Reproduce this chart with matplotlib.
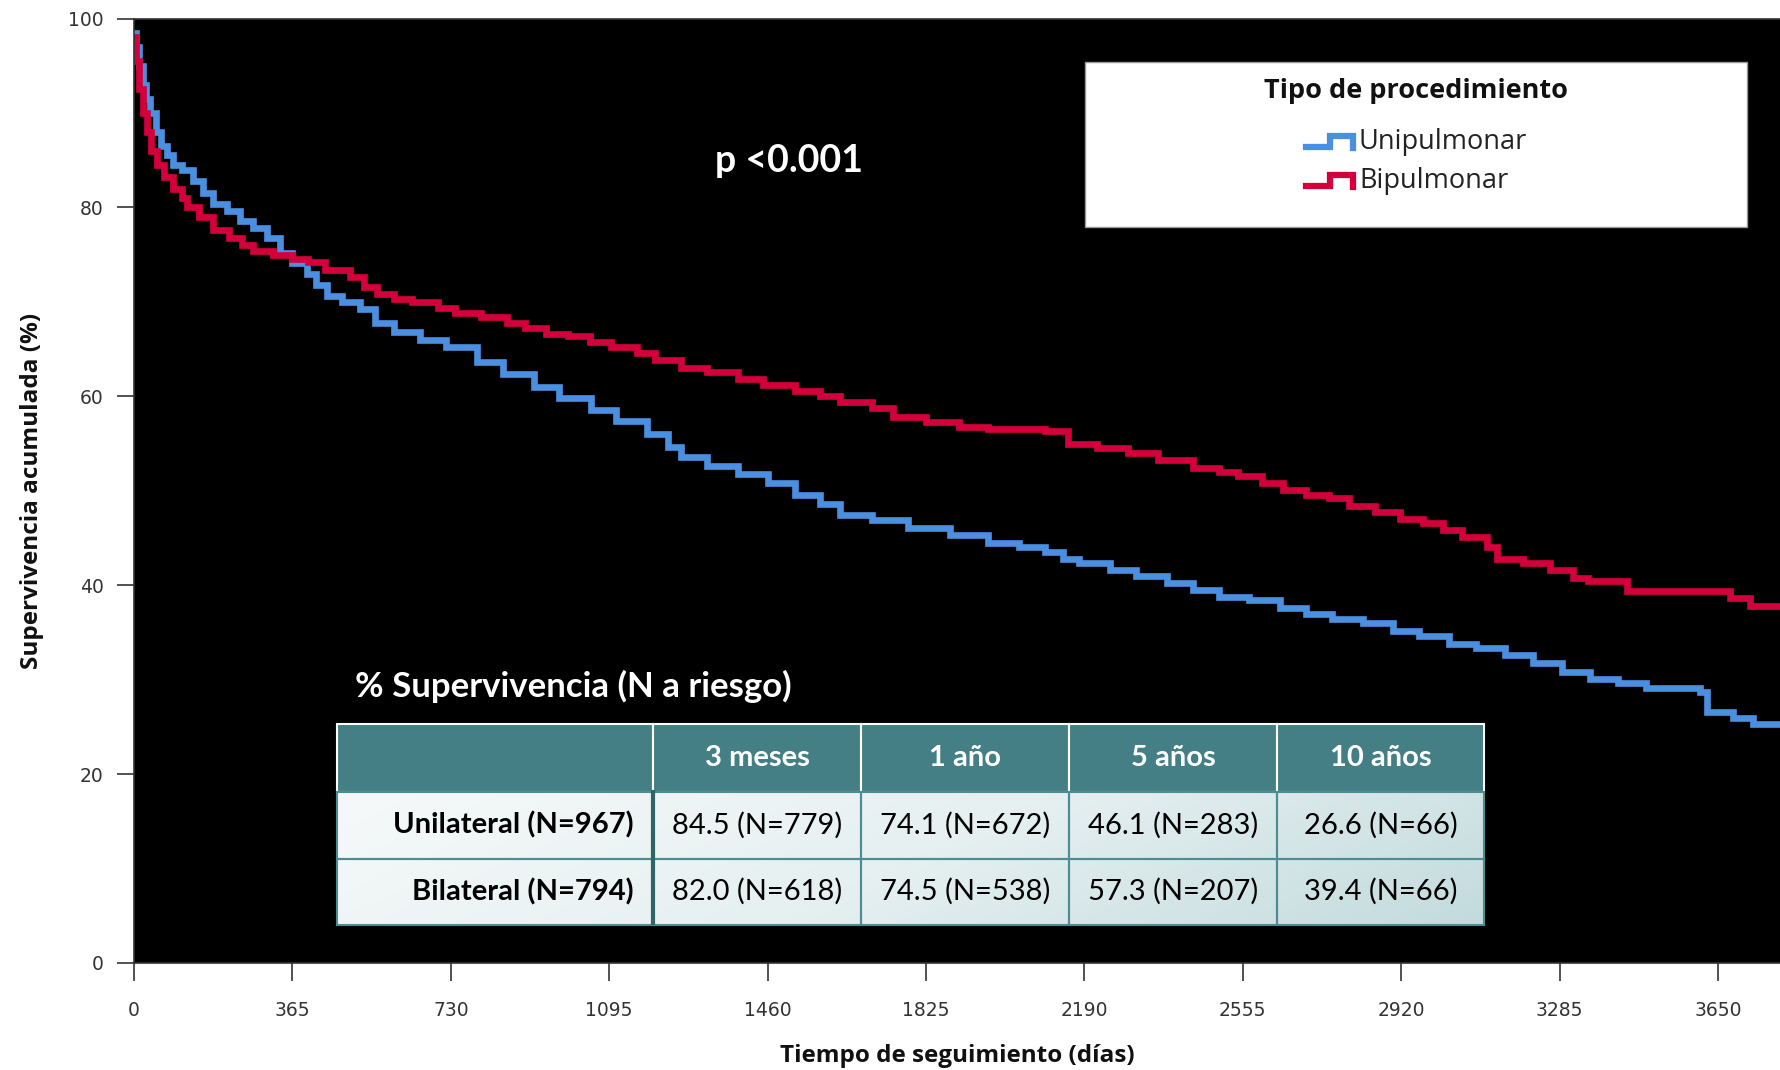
import matplotlib
matplotlib.use('Agg')
import matplotlib.pyplot as plt
from matplotlib.patches import Rectangle
from matplotlib.lines import Line2D
from matplotlib.table import Table
from matplotlib.colors import LinearSegmentedColormap
import numpy as np

# ---------------- datos ----------------
uni_dias = [0, 5, 12, 20, 28, 38, 50, 62, 75, 90, 110, 137, 160, 183, 215, 244, 275, 306,
            336, 365, 398, 420, 444, 480, 520, 555, 600, 660, 720, 790, 850, 921, 980, 1052,
            1110, 1183, 1230, 1261, 1320, 1392, 1460, 1523, 1580, 1627, 1700, 1784, 1880,
            1968, 2040, 2098, 2140, 2177, 2250, 2308, 2380, 2439, 2500, 2569, 2640, 2700,
            2760, 2831, 2900, 2962, 3030, 3093, 3160, 3224, 3290, 3354, 3420, 3485, 3608,
            3625, 3684, 3730, 3800]
uni_surv = [98.5, 97.0, 95.0, 93.0, 91.5, 90.0, 88.0, 86.5, 85.5, 84.5, 84.0, 82.8, 81.5,
            80.4, 79.6, 78.6, 77.8, 76.8, 75.2, 74.1, 73.0, 71.8, 70.6, 70.0, 69.2, 67.8,
            66.8, 66.0, 65.2, 63.6, 62.4, 61.0, 59.8, 58.6, 57.4, 56.0, 54.6, 53.6, 52.6,
            51.8, 50.8, 49.6, 48.6, 47.4, 46.9, 46.1, 45.3, 44.5, 44.0, 43.5, 42.8, 42.4,
            41.6, 41.0, 40.2, 39.5, 38.8, 38.4, 37.6, 37.0, 36.4, 36.0, 35.2, 34.6, 33.8,
            33.4, 32.6, 31.8, 30.8, 30.1, 29.6, 29.1, 28.7, 26.6, 25.9, 25.3, 25.3]

bi_dias = [0, 5, 12, 20, 30, 40, 53, 70, 90, 110, 122, 150, 183, 220, 250, 275, 320, 365,
           400, 440, 498, 530, 560, 600, 640, 700, 740, 800, 860, 900, 950, 1000, 1050,
           1100, 1160, 1200, 1261, 1320, 1392, 1450, 1523, 1580, 1627, 1700, 1750, 1825,
           1900, 1968, 2098, 2151, 2220, 2290, 2360, 2439, 2500, 2543, 2600, 2648, 2700,
           2753, 2800, 2860, 2917, 2970, 3016, 3060, 3117, 3140, 3200, 3263, 3316, 3350,
           3440, 3677, 3723, 3800]
bi_surv = [98.0, 95.5, 92.5, 90.0, 88.0, 86.0, 84.5, 83.2, 82.0, 81.0, 80.0, 79.0, 77.6,
           76.8, 76.0, 75.4, 75.0, 74.5, 74.2, 73.4, 72.6, 71.6, 70.8, 70.3, 70.0, 69.3,
           68.8, 68.4, 67.8, 67.2, 66.6, 66.4, 65.8, 65.2, 64.6, 63.8, 63.0, 62.6, 61.8,
           61.2, 60.6, 60.0, 59.4, 58.8, 57.8, 57.3, 56.8, 56.5, 56.3, 55.0, 54.5, 54.0,
           53.3, 52.4, 52.0, 51.6, 50.8, 50.1, 49.6, 49.2, 48.4, 47.7, 47.0, 46.6, 45.8,
           45.1, 44.0, 42.8, 42.4, 41.6, 40.8, 40.4, 39.4, 38.6, 37.8, 37.8]

serie_nombres = ['Unipulmonar', 'Bipulmonar']
xticks_dias = [0, 365, 730, 1095, 1460, 1825, 2190, 2555, 2920, 3285, 3650]
yticks_pct = [0, 20, 40, 60, 80, 100]

tabla_cols = ['', '3 meses', '1 año', '5 años', '10 años']
tabla_filas = ['Unilateral (N=967)', 'Bilateral (N=794)']
tabla_uni = ['84.5 (N=779)', '74.1 (N=672)', '46.1 (N=283)', '26.6 (N=66)']
tabla_bi = ['82.0 (N=618)', '74.5 (N=538)', '57.3 (N=207)', '39.4 (N=66)']

azul = '#4a8fe0'
rojo = '#d4003c'
teal = '#437f84'

W, H = 1781, 1070
fig = plt.figure(figsize=(W / 100, H / 100), dpi=100, facecolor='white')

ax = fig.add_axes([134 / W, 1 - 963 / H, 1 - 134 / W, (963 - 18.5) / H])
ax.set_facecolor('black')
ax.step(uni_dias, uni_surv, where='post', color=azul, lw=4.8, solid_joinstyle='miter')
ax.step(bi_dias, bi_surv, where='post', color=rojo, lw=4.8, solid_joinstyle='miter')
ax.set_xlim(0, 3795)
ax.set_ylim(0, 100)
ax.set_xticks(xticks_dias)
ax.set_yticks(yticks_pct)
for s in ['left', 'bottom', 'top']:
    ax.spines[s].set_color('#333333')
    ax.spines[s].set_linewidth(1.2)
ax.spines['right'].set_visible(False)
ax.tick_params(axis='x', length=13, width=1.2, pad=14, labelsize=13.5, colors='#333333')
ax.tick_params(axis='y', length=12, width=1.2, pad=10, labelsize=13.5, colors='#333333')

ax.set_ylabel('Supervivencia acumulada (%)', fontsize=17.5, fontweight='bold',
              family='Open Sans', labelpad=17, color='#111111')
ax.set_xlabel('Tiempo de seguimiento (días)', fontsize=17.5, fontweight='bold',
              family='Open Sans', labelpad=18, color='#111111')

# p valor y titulo de la tabla
fig.text(789 / W, 1 - 161 / H, 'p <0.001', color='white', fontsize=27,
         fontweight='bold', family='Lato', ha='center', va='center')
fig.text(355 / W, 1 - 686 / H, '% Supervivencia (N a riesgo)', color='white', fontsize=25,
         fontweight='bold', family='Lato', ha='left', va='center')

# leyenda
fig.patches.append(Rectangle((1085 / W, 1 - 227 / H), 662 / W, 164.5 / H,
                             transform=fig.transFigure, facecolor='white',
                             edgecolor='#999999', lw=1))
fig.text(1416 / W, 1 - 91 / H, 'Tipo de procedimiento', fontsize=19.5, fontweight='bold',
         family='Open Sans', ha='center', va='center', color='#111111')
for nombre, col, yy in zip(serie_nombres, [azul, rojo], [142, 181]):
    xs = np.array([1306, 1330, 1330, 1353, 1353]) / W
    ys = 1 - np.array([yy + 5, yy + 5, yy - 6, yy - 6, yy + 6]) / H
    fig.lines.append(Line2D(xs, ys, transform=fig.transFigure, color=col, lw=4.5,
                            solid_joinstyle='miter'))
    fig.text(1359 / W, 1 - yy / H, nombre, fontsize=19.5, family='Open Sans',
             ha='left', va='center', color='#222222')

# tabla
tx0, tx1, ty0, ty1 = 337 / W, 1484.5 / W, 1 - 924.5 / H, 1 - 723.5 / H
axt = fig.add_axes([tx0, ty0, tx1 - tx0, ty1 - ty0])
axt.set_axis_off()
axt.set_xlim(0, 1)
axt.set_ylim(0, 1)
hdr = 68 / 201
grad = np.linspace(0, 1, 200)[None, :] * 0.8 + np.linspace(0, 1, 50)[:, None] * 0.2
cmap = LinearSegmentedColormap.from_list('tb', ['#f6f9f9', '#e6f0f1', '#c3dbdd'])
axt.imshow(grad, extent=[0, 1, 0, 1 - hdr], aspect='auto', cmap=cmap, zorder=0)

col_w = np.array([316, 208, 208, 208, 207.5]) / 1147.5
row_h = np.array([68, 67, 66]) / 201
tab = Table(axt, bbox=[0, 0, 1, 1])
filas = [tabla_cols, [tabla_filas[0]] + tabla_uni, [tabla_filas[1]] + tabla_bi]
for i, fila in enumerate(filas):
    for j, txt in enumerate(fila):
        loc = 'right' if (j == 0 and i > 0) else 'center'
        c = tab.add_cell(i, j, col_w[j], row_h[i], text=txt, loc=loc,
                         facecolor=teal if i == 0 else 'none',
                         edgecolor='white' if i == 0 else '#4d8c91')
        c.set_linewidth(1.5)
        t = c.get_text()
        t.set_fontfamily('Lato')
        t.set_fontsize(21)
        if i == 0:
            t.set_color('white')
            t.set_fontweight('bold')
        elif j == 0:
            t.set_fontweight('bold')
            t.set_color('black')
        else:
            t.set_color('black')
        if loc == 'right':
            c.PAD = 0.06
tab.auto_set_font_size(False)
axt.add_table(tab)
axt.plot([col_w[0], col_w[0]], [0, 1 - hdr], color='#2f6469', lw=3, zorder=5)

fig.savefig('out.png', dpi=100, facecolor='white')
